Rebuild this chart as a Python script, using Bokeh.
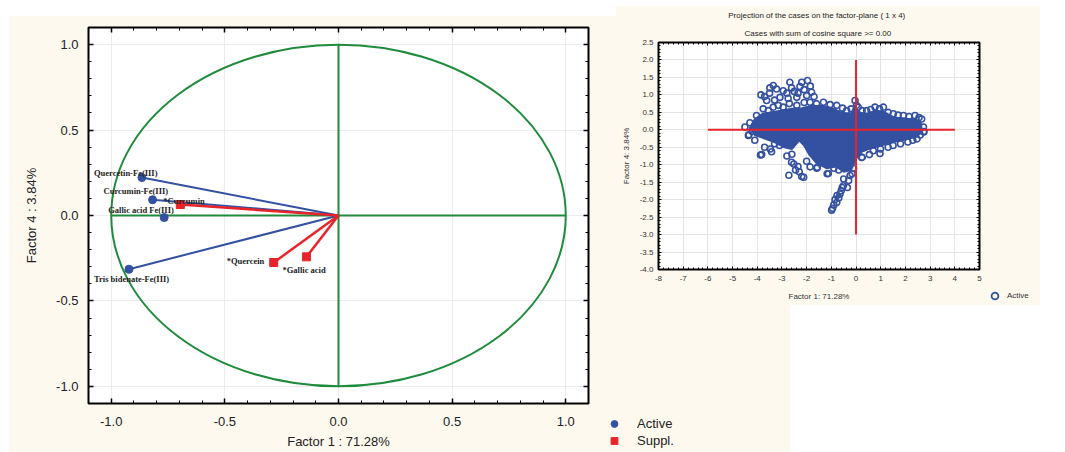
from bokeh.plotting import figure
from bokeh.models import (Range1d, LinearAxis, FixedTicker, Legend, LegendItem, Title,
                          PrintfTickFormatter, GridBox)
from bokeh.core.properties import value
from bokeh.embed import file_html
from bokeh.resources import INLINE

# ---------------- data: left panel (variable projections, factor 1 x factor 4) ----------------
active_names = ["Quercetin-Fe(III)", "Curcumin-Fe(III)", "Gallic acid Fe(III)", "Tris bidenate-Fe(III)"]
active_f1 = [-0.865, -0.818, -0.767, -0.922]
active_f4 = [0.222, 0.092, -0.012, -0.314]
active_has_vector = [True, True, False, True]

suppl_names = ["*Curcumin", "*Quercein", "*Gallic acid"]
suppl_f1 = [-0.696, -0.285, -0.141]
suppl_f4 = [0.064, -0.275, -0.242]

left_major_ticks = [-1.0, -0.5, 0.0, 0.5, 1.0]
left_minor_ticks = [round(-1.1 + 0.1 * i, 1) for i in range(23)]
circle_diameter = 2.0
axis_span = [-1.0, 1.0]

# ---------------- data: right panel (cases on factor plane 1 x 4) ----------------
cases_f1 = [
    -3.85, -3.70, -3.49, -3.35, -3.22, -3.08, -2.95, -2.80, -2.68, -2.61, -2.50, -2.40, -2.27, -2.20,
    -2.10, -1.96, -1.85, -1.80, -2.00, -3.62, -3.30, -2.75, -1.70, -3.50, -2.35,
    -4.03, -3.76, -3.55, -3.35, -3.15, -2.95, -2.70, -2.40, -2.10, -1.86, -1.60, -1.32, -1.05, -0.78,
    -0.55, -0.38, -0.20, -0.04, 0.02, 0.09, 0.25, 0.43, 0.60, 0.77, 0.95, 1.11, 1.30, 1.51, 1.70,
    1.92, 2.15, 2.39, 2.55, 2.66, 2.73, 2.75,
    -4.50, -4.36, -4.30, -4.20,
    -4.34, -4.10, -3.87, -3.82, -3.70, -3.47, -3.42, -3.30, -3.10,
    -2.72, -2.61, -2.52, -2.45, -2.35, -2.20, -2.12, -2.30, -2.00, -1.86, -1.59, -1.57, -1.40, -1.17,
    -1.12, -1.04, -0.90, -0.70, -2.80, -2.60,
    -0.56, -0.50, -0.51, -0.35, -0.24, -0.16, -0.65, -0.60, -0.77, -0.78, -0.85, -0.90, -0.99, -0.95,
    -0.70, -0.30, -0.10,
    0.09, 0.23, 0.25, 0.54, 0.70, 0.97, 0.99, 1.30, 1.50, 1.80, 2.10, 2.30, 2.47, 2.60, 2.74,
]
cases_f4 = [
    1.00, 0.95, 1.20, 1.27, 1.17, 0.93, 1.12, 1.05, 1.36, 1.20, 1.10, 0.93, 1.24, 1.36,
    1.15, 1.41, 1.25, 1.08, 0.98, 0.84, 0.85, 0.90, 0.95, 1.05, 1.05,
    0.41, 0.60, 0.55, 0.65, 0.70, 0.65, 0.75, 0.70, 0.78, 0.79, 0.75, 0.79, 0.72, 0.70,
    0.62, 0.55, 0.60, 0.84, 0.70, 0.65, 0.55, 0.55, 0.58, 0.65, 0.60, 0.65, 0.50, 0.46, 0.42,
    0.41, 0.38, 0.41, 0.35, 0.31, 0.08, -0.05,
    0.08, -0.16, 0.20, -0.05,
    -0.14, -0.30, -0.72, -0.71, -0.50, -0.55, -0.63, -0.40, -0.45,
    -1.30, -0.93, -0.98, -1.15, -1.05, -1.34, -1.36, -1.20, -0.90, -1.06, -1.10, -1.07, -0.90, -1.26,
    -1.25, -0.88, -1.10, -1.15, -0.75, -0.70,
    -1.65, -1.41, -1.60, -1.65, -1.31, -1.26, -1.84, -1.75, -1.88, -2.08, -2.00, -2.15, -2.30, -2.25,
    -1.95, -1.45, -1.10,
    -0.65, -0.79, -0.79, -0.71, -0.60, -0.68, -0.55, -0.50, -0.45, -0.40, -0.35, -0.30, -0.26, -0.15, -0.06,
]
# outline of the densely packed core of the case cloud
core_f1 = [-4.3, -4.1, -3.8, -3.4, -3.0, -2.6, -2.2, -1.8, -1.3, -0.9, -0.55, -0.2, -0.05, 0.1, 0.4,
           0.8, 1.1, 1.5, 2.0, 2.4, 2.62, 2.68, 2.45, 2.0, 1.5, 1.0, 0.5, 0.15, -0.05, -0.2, -0.5,
           -0.8, -1.2, -1.6, -1.9, -2.1, -2.3, -2.6, -2.9, -3.3, -3.7, -4.1]
core_f4 = [0.05, 0.3, 0.45, 0.5, 0.55, 0.6, 0.62, 0.68, 0.68, 0.6, 0.48, 0.45, 0.7, 0.5, 0.45,
           0.55, 0.52, 0.36, 0.32, 0.3, 0.2, -0.05, -0.2, -0.28, -0.35, -0.45, -0.55, -0.65, -0.9,
           -1.15, -1.2, -1.05, -1.1, -0.95, -0.7, -0.45, -0.3, -0.55, -0.5, -0.35, -0.25, -0.15]
cross_h_f1 = [-6, 4]
cross_h_f4 = [0, 0]
cross_v_f1 = [0, 0]
cross_v_f4 = [-3, 2]

right_x_ticks = list(range(-8, 6))
right_y_ticks = [-4.0, -3.5, -3.0, -2.5, -2.0, -1.5, -1.0, -0.5, 0.0, 0.5, 1.0, 1.5, 2.0, 2.5]
right_x_minor = [round(-8 + 0.2 * i, 1) for i in range(66)]
right_y_minor = [round(-4 + 0.1 * i, 1) for i in range(66)]

# ---------------- style ----------------
BEIGE = "#fdf9ef"
BLUE = "#3451a1"
RED = "#e8232a"
GREEN = "#1f8b3c"
SANS = "Liberation Sans"
SERIF = "Liberation Serif"


def style_axes(axes, ticks, minor, fmt, tick_in, minor_in, size, color):
    for ax in axes:
        ax.ticker = FixedTicker(ticks=ticks, minor_ticks=minor)
        ax.formatter = PrintfTickFormatter(format=fmt)
        ax.axis_line_color = None
        ax.major_tick_in = tick_in
        ax.major_tick_out = 0
        ax.minor_tick_in = minor_in
        ax.minor_tick_out = 0
        ax.major_tick_line_color = "black"
        ax.minor_tick_line_color = "black"
        ax.major_label_text_font = SANS
        ax.major_label_text_font_size = size
        ax.major_label_text_color = color


def blank_labels(axes, ticks):
    for ax in axes:
        ax.major_label_overrides = {t: "" for t in ticks}
        ax.major_label_standoff = 0


# ================= left figure (its backdrop runs under the right one) =================
lp = figure(width=782, height=437, x_range=Range1d(-1.1, 1.1), y_range=Range1d(-1.1, 1.1),
            output_backend="svg", toolbar_location=None,
            min_border_left=80, min_border_right=202, min_border_top=12, min_border_bottom=49,
            border_fill_color=BEIGE, background_fill_color="white",
            outline_line_color="black", outline_line_width=2)
lp.add_layout(LinearAxis(), "above")
lp.add_layout(LinearAxis(), "right")
style_axes(lp.below + lp.above + lp.left + lp.right, left_major_ticks, left_minor_ticks,
           "%.1f", 5, 3, "13px", "#222222")
for ax in lp.below + lp.above + lp.left + lp.right:
    ax.major_tick_line_width = 1.5
blank_labels(lp.above + lp.right, left_major_ticks)

bx = lp.below[0]
bx.axis_label = "Factor 1 : 71.28%"
bx.major_label_standoff = 13
bx.axis_label_standoff = 5
ly = lp.left[0]
ly.axis_label = "Factor 4 : 3.84%"
ly.major_label_standoff = 10
ly.axis_label_standoff = 14
for ax in (bx, ly):
    ax.axis_label_text_font = SANS
    ax.axis_label_text_font_size = "13px"
    ax.axis_label_text_font_style = "normal"
    ax.axis_label_text_color = "#222222"

lp.grid.grid_line_color = "#ececec"

lp.ellipse(x=0, y=0, width=circle_diameter, height=circle_diameter, fill_color=None,
           line_color=GREEN, line_width=2)
lp.line(x=axis_span, y=[0, 0], line_color=GREEN, line_width=2)
lp.line(x=[0, 0], y=axis_span, line_color=GREEN, line_width=2)

vec = [i for i, v in enumerate(active_has_vector) if v]
lp.segment(x0=0, y0=0, x1=[active_f1[i] for i in vec], y1=[active_f4[i] for i in vec],
           line_color=BLUE, line_width=2)
lp.segment(x0=0, y0=0, x1=suppl_f1, y1=suppl_f4, line_color=RED, line_width=2.5)
lp.scatter(active_f1, active_f4, marker="circle", size=8, fill_color=BLUE, line_color=BLUE)
lp.scatter(suppl_f1, suppl_f4, marker="square", size=8, fill_color=RED, line_color=RED)

active_dx = [-48, -49, -56, -35]
active_dy = [-5, -9, -8, 10]
suppl_dx = [-17, -47, -24]
suppl_dy = [-4, -2, 13]
lp.text(x=active_f1, y=active_f4, text=active_names, x_offset=active_dx, y_offset=active_dy,
        text_font=value(SERIF), text_font_style="bold", text_font_size="8.5px",
        text_baseline="middle", text_align="left", text_color="#222222")
lp.text(x=suppl_f1, y=suppl_f4, text=suppl_names, x_offset=suppl_dx, y_offset=suppl_dy,
        text_font=value(SERIF), text_font_style="bold", text_font_size="8.5px",
        text_baseline="middle", text_align="left", text_color="#222222")

# ================= right figure =================
rp = figure(width=425, height=300, x_range=Range1d(-8, 5), y_range=Range1d(-4, 2.5),
            output_backend="svg", toolbar_location=None,
            min_border_left=43, min_border_right=61, min_border_top=37, min_border_bottom=36,
            border_fill_color=BEIGE, background_fill_color="white",
            outline_line_color="black", outline_line_width=2)
rp.add_layout(LinearAxis(), "above")
rp.add_layout(LinearAxis(), "right")
style_axes(rp.below + rp.above, right_x_ticks, right_x_minor, "%d", 3, 2, "8px", "#333333")
style_axes(rp.left + rp.right, right_y_ticks, right_y_minor, "%.1f", 3, 2, "8px", "#333333")
blank_labels(rp.above, right_x_ticks)
blank_labels(rp.right, right_y_ticks)

rbx = rp.below[0]
rbx.axis_label = "Factor 1: 71.28%"
rbx.major_label_standoff = 6
rbx.axis_label_standoff = 8
rly = rp.left[0]
rly.axis_label = "Factor 4: 3.84%"
rly.major_label_standoff = 5
rly.axis_label_standoff = 6
for ax in (rbx, rly):
    ax.axis_label_text_font = SANS
    ax.axis_label_text_font_size = "8px"
    ax.axis_label_text_font_style = "normal"
    ax.axis_label_text_color = "#333333"

rp.grid.grid_line_color = "#e4e4e4"

rp.add_layout(Title(text="Cases with sum of cosine square >=  0.00", align="center",
                    text_font=SANS, text_font_size="8px", text_font_style="normal",
                    text_color="#222222", standoff=10), "above")
rp.add_layout(Title(text="Projection of the cases on the factor-plane ( 1 x   4)", align="center",
                    text_font=SANS, text_font_size="8px", text_font_style="normal",
                    text_color="#222222", standoff=3), "above")

rp.patch(core_f1, core_f4, fill_color=BLUE, line_color=BLUE, line_width=2)
rp.scatter(cases_f1, cases_f4, marker="circle", size=6, fill_color=None,
           line_color=BLUE, line_width=1.6)
rp.line(cross_h_f1, cross_h_f4, line_color=RED, line_width=2)
rp.line(cross_v_f1, cross_v_f4, line_color=RED, line_width=2)


# ================= legend overlays (own frames, transparent, sized to the legend box) =================
def legend_fig(w, h):
    return figure(frame_width=w, frame_height=h, x_range=Range1d(10, 11), y_range=Range1d(10, 11),
                  x_axis_type=None, y_axis_type=None, output_backend="svg", toolbar_location=None,
                  title=None, min_border=0, min_border_left=0, min_border_right=0,
                  min_border_top=0, min_border_bottom=0, sizing_mode="fixed",
                  border_fill_alpha=0, background_fill_alpha=0, outline_line_color=None)


lfig = legend_fig(85, 37)
la = lfig.scatter(active_f1, active_f4, marker="circle", fill_color=BLUE, line_color=BLUE)
ls = lfig.scatter(suppl_f1, suppl_f4, marker="square", fill_color=RED, line_color=RED)
lfig.add_layout(Legend(items=[LegendItem(label="Active", renderers=[la]),
                              LegendItem(label="Suppl.", renderers=[ls])],
                       location="top_left", padding=0, margin=0, spacing=0, glyph_width=20,
                       glyph_height=17, label_standoff=13, label_text_font=SANS,
                       label_text_font_size="13px", label_text_color="#222222",
                       background_fill_alpha=0, border_line_color=None))

rfig = legend_fig(54, 18)
rc = rfig.scatter(cases_f1, cases_f4, marker="circle", fill_color=None, line_color=BLUE, line_width=1.8)
rfig.add_layout(Legend(items=[LegendItem(label="Active", renderers=[rc])],
                       location="top_left", padding=0, margin=0, glyph_width=17, glyph_height=17,
                       label_standoff=4, label_text_font=SANS, label_text_font_size="8px",
                       label_text_color="#333333", background_fill_alpha=0, border_line_color=None))

# ================= layout: right panel overlaps the left panel's backdrop =================
page = GridBox(children=[(lp, 2, 1, 4, 4), (rp, 1, 3, 3, 4), (lfig, 5, 2, 1, 2), (rfig, 3, 6, 1, 1)],
               rows=["5px", "10px", "272px", "18px", "110px", "37px"],
               cols=["8px", "596px", "11px", "74px", "101px", "196px", "54px"])

open("out.html", "w").write(file_html(page, INLINE))
